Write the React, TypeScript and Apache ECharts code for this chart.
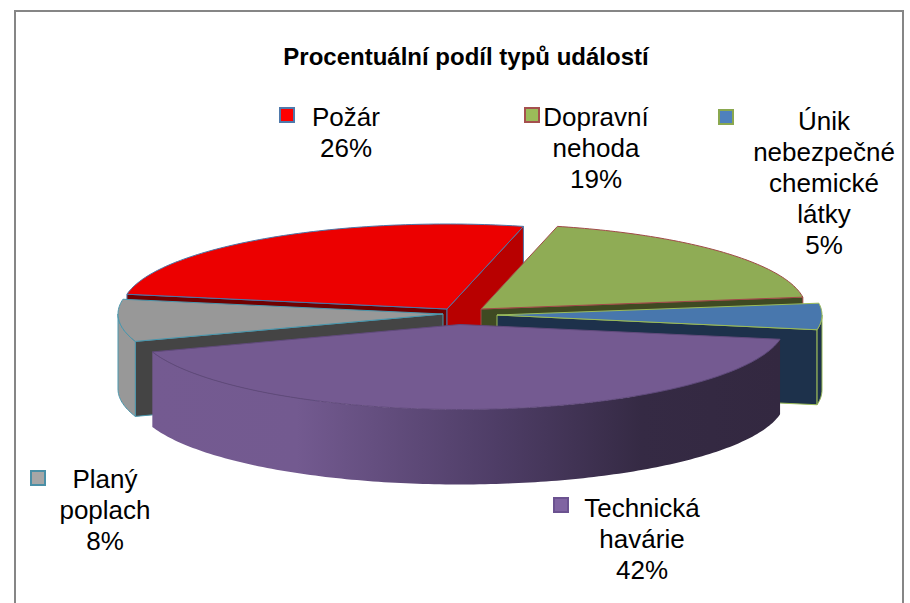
import React, { useEffect, useRef } from "react";
import * as echarts from "echarts";

const titleText = "Procentuální podíl typů událostí";
const categories = ["Požár", "Dopravní\nnehoda", "Únik\nnebezpečné\nchemické\nlátky", "Technická\nhavárie", "Planý\npoplach"];
const values = [26, 19, 5, 42, 8];
const swatchColors = ["#ff0000", "#9bbb59", "#4f81bd", "#8064a2", "#a6a6a6"];
const swatchBorders = ["#4f79ab", "#a5504e", "#8aa84f", "#6b5290", "#4a8fa6"];

const topColors = ["#ec0000", "#8fac55", "#4877ad", "#745a91", "#989898"];
const edgeColors = ["#4a76a8", "#a04a48", "#9bbb59", "#604a7b", "#4a97ad"];
const startWalls = ["#700000", "#3f4a22", "#1d314b", "#3a2d49", "#444444"];
const endWalls = ["#b80000", "#3f4a22", "#1d314b", "#3a2d49", "#444444"];
const outerColors = ["#b80000", "#3f4a22", "#1d314b", "#745a91", "#989898"];
const drawRank = [0, 1, 2, 4, 3];

const FIRST_ANGLE = 280;
const RX = 325;
const RY = 85;
const DEPTH = 75;
const apexX = [447, 481, 497, 460, 443];
const apexY = [309, 309, 315, 324.5, 314];

const labelCx = [346, 596, 824, 642, 105];
const labelTop = [101, 101, 105, 492, 463];
const keyX = [280, 525, 719, 554, 31];
const keyY = [108, 108, 110, 498, 471];

const total = values.reduce((a, b) => a + b, 0);

function renderSlice(params: any, api: any) {
  const i = params.dataIndex;
  let before = 0;
  for (let k = 0; k < i; k++) before += values[k];
  const a0 = FIRST_ANGLE + (before / total) * 360;
  const a1 = a0 + (api.value(0) / total) * 360;
  const cx = apexX[i];
  const cy = apexY[i];
  const pt = (deg: number, dy = 0) => {
    const r = (deg * Math.PI) / 180;
    return [cx + RX * Math.sin(r), cy - RY * Math.cos(r) + dy];
  };
  const arc = (from: number, to: number, dy = 0) => {
    const pts: number[][] = [];
    const n = Math.max(2, Math.ceil(Math.abs(to - from)));
    for (let s = 0; s <= n; s++) pts.push(pt(from + ((to - from) * s) / n, dy));
    return pts;
  };
  const rank = drawRank[i] * 10;
  const edge = edgeColors[i];
  const children: any[] = [];
  const wall = (deg: number, fill: string, z: number) => {
    children.push({
      type: "polygon",
      z2: rank + z,
      shape: { points: [[cx, cy], pt(deg), pt(deg, DEPTH), [cx, cy + DEPTH]] },
      style: { fill, stroke: edge, lineWidth: 1 },
    });
  };
  const sinOf = (deg: number) => Math.sin((deg * Math.PI) / 180);
  // the walls of a slice that face the viewer
  if (sinOf(a0) < 0) wall(a0, startWalls[i], 1);
  if (sinOf(a1) > 0) wall(a1, endWalls[i], 1);
  // outer rim, front half of the ellipse only
  for (const shift of [0, 360]) {
    const from = Math.max(a0, 90 + shift);
    const to = Math.min(a1, 270 + shift);
    if (to > from) {
      const fill: any =
        i === 3
          ? new echarts.graphic.LinearGradient(0, 0, 1, 0, [
              { offset: 0, color: "#745a91" },
              { offset: 0.23, color: "#735a90" },
              { offset: 0.55, color: "#4e3d66" },
              { offset: 0.78, color: "#352a44" },
              { offset: 1, color: "#332840" },
            ])
          : outerColors[i];
      children.push({
        type: "polygon",
        z2: rank + 2,
        shape: { points: [...arc(from, to), ...arc(to, from, DEPTH)] },
        style: { fill, stroke: i === 3 ? null : edge, lineWidth: 1 },
      });
    }
  }
  children.push({
    type: "polygon",
    z2: rank + 3,
    shape: { points: [[cx, cy], ...arc(a0, a1)] },
    style: { fill: topColors[i], stroke: edge, lineWidth: 1 },
  });
  return { type: "group", children };
}

export default function App() {
  const ref = useRef<HTMLDivElement>(null);
  useEffect(() => {
    document.body.style.margin = "0";
    const chart = echarts.init(ref.current!, null, { renderer: "svg" });
    const font = "'Liberation Sans', Arial, sans-serif";
    const graphics: any[] = [
      {
        type: "rect",
        z: 0,
        shape: { x: 15, y: 11, width: 888, height: 600 },
        style: { fill: "#ffffff", stroke: "#868686", lineWidth: 2 },
      },
      {
        type: "text",
        z: 50,
        style: {
          x: 466,
          y: 56,
          text: titleText,
          fill: "#000000",
          font: `bold 24px ${font}`,
          textAlign: "center",
          textVerticalAlign: "middle",
        },
      },
    ];
    categories.forEach((name, i) => {
      graphics.push({
        type: "rect",
        z: 50,
        shape: { x: keyX[i], y: keyY[i], width: 14, height: 14 },
        style: { fill: swatchColors[i], stroke: swatchBorders[i], lineWidth: 2 },
      });
      graphics.push({
        type: "text",
        z: 50,
        style: {
          x: labelCx[i],
          y: labelTop[i],
          text: `${name}\n${values[i]}%`,
          fill: "#000000",
          fontFamily: font,
          fontSize: 26,
          lineHeight: 31,
          align: "center",
          verticalAlign: "top",
        },
      });
    });
    chart.setOption({
      animation: false,
      backgroundColor: "#ffffff",
      graphic: { elements: graphics },
      series: [
        {
          type: "custom",
          coordinateSystem: "none",
          silent: true,
          z: 10,
          renderItem: renderSlice,
          data: values.map((v, i) => ({ name: categories[i].replace(/\n/g, " "), value: [v] })),
        },
      ],
    });
    return () => chart.dispose();
  }, []);
  return <div ref={ref} style={{ position: "absolute", left: 0, top: 0, width: 910, height: 603 }} />;
}
